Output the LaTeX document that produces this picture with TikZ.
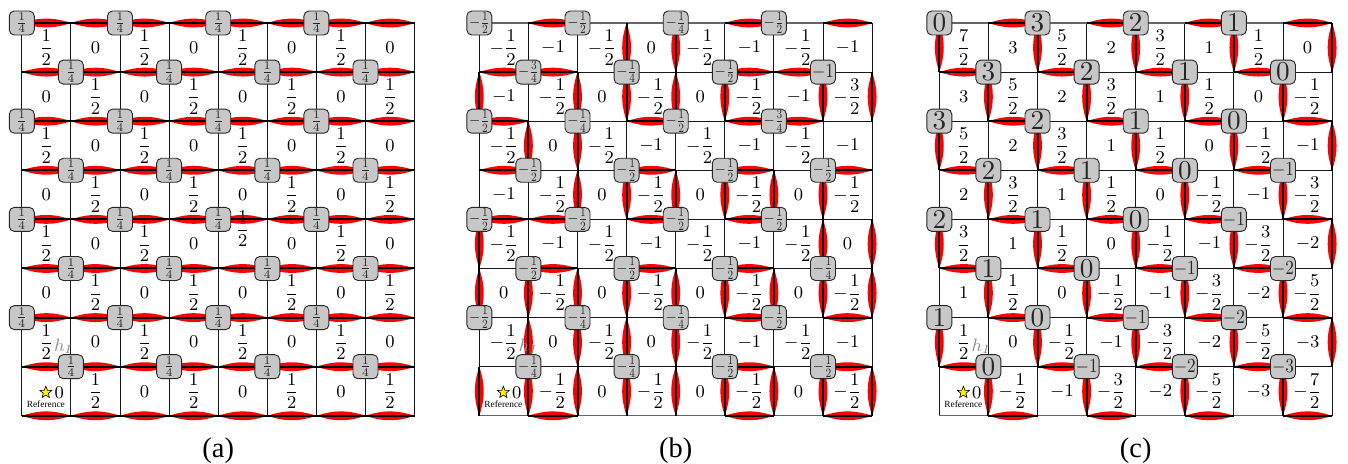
\documentclass[tikz,border=0pt]{standalone}
\usepackage{fontspec}
\usepackage{graphicx}
\usetikzlibrary{shapes.geometric}
\newfontfamily\capfont{Liberation Serif}

% n/2 typeset as an integer or a fraction
\newcommand\halfval[1]{%
  \ifodd#1\relax
    \ifnum#1<0 -\frac{\number\numexpr0-(#1)\relax}{2}\else\frac{#1}{2}\fi
  \else
    \number\numexpr(#1)/2\relax
  \fi}
% -k/4 for the vertex boxes of panel (b)
\newcommand\quarterval[1]{%
  \ifcase#1\or\scalebox{0.72}[0.91]{$-\frac{1}{4}$}%
  \or\scalebox{0.72}[0.91]{$-\frac{1}{2}$}%
  \or\scalebox{0.72}[0.91]{$-\frac{3}{4}$}%
  \or\scalebox{0.86}[1]{$-1$}\fi}
% integer vertex values of panel (c)
\newcommand\intval[1]{\ifnum#1<0 \scalebox{0.86}[1]{$#1$}\else\scalebox{1.36}{$#1$}\fi}

\tikzset{
  gridline/.style={line width=0.45pt, draw=black!90},
  rimline/.style={line width=0.6pt, draw=black!60},
  hotline/.style={line width=1pt, draw=black},
  redlens/.style={fill=red},
  vtx/.style={draw=black!85, fill=black!22, rounded corners=2.5pt,
    minimum width=12.5pt, minimum height=12pt, inner sep=0pt,
    line width=0.45pt, text=black!85, font=\fontsize{10}{12}\selectfont},
  cellval/.style={inner sep=0.75pt, font=\fontsize{9}{11}\selectfont},
  hlabel/.style={inner sep=0pt, text=black!45, font=\fontsize{9}{11}\selectfont},
  refstar/.style={star, star points=5, star point ratio=2.3, minimum size=6.2pt,
    inner sep=0pt, draw=black, fill=yellow, line width=0.3pt},
  reftext/.style={inner sep=0pt, font=\capfont\fontsize{4.7}{5}\selectfont},
  caption/.style={inner sep=0pt, font=\capfont\fontsize{14.2}{16}\selectfont},
}

% a highlighted edge: red lens under a heavy black segment
\newcommand\lensedge[2]{%
  \fill[redlens] (#1) to[bend left=18] (#2) to[bend left=18] (#1);
  \draw[hotline] (#1) -- (#2);}
\newcommand\vedge[3]{\pgfmathtruncatemacro\rnext{#3+1}\lensedge{#1-p-#2-#3}{#1-p-#2-\rnext}}
\newcommand\hedge[3]{\pgfmathtruncatemacro\cnext{#2+1}\lensedge{#1-p-#2-#3}{#1-p-\cnext-#3}}

\newcommand\gridpoints[1]{%
  \foreach \c in {0,...,8}{\foreach \r in {0,...,8}{\coordinate (#1-p-\c-\r) at (\c,\r);}}}
\newcommand\gridlines[1]{%
  \foreach \r in {1,...,7}{\draw[gridline] (#1-p-0-\r) -- (#1-p-8-\r);}
  \foreach \c in {0,...,8}{\draw[gridline] (#1-p-\c-0) -- (#1-p-\c-8);}
  \draw[rimline] (#1-p-0-0) -- (#1-p-8-0);
  \draw[rimline] (#1-p-0-8) -- (#1-p-8-8);}
% reference cell in the lower left corner, and the h_I tag beside the cell above it
\newcommand\refcell[1]{%
  \coordinate (#1-rc) at (0.5,7.5);
  \node[refstar] (#1-star) at ([xshift=-0.25pt,yshift=-0.6pt]#1-rc) {};
  \node[cellval] (#1-v-0-7) at ([xshift=6.4pt,yshift=-0.6pt]#1-rc) {$0$};
  \node[reftext] (#1-ref) at ([xshift=-0.25pt,yshift=-6.5pt]#1-rc) {Reference};
  \node[hlabel, anchor=base west] (#1-h) at ([xshift=-0.8pt,yshift=-2pt]#1-v-0-6.base east) {$h_I$};}

\begin{document}
\begin{tikzpicture}[x=0.5pt,y=-0.5pt]
\useasboundingbox (0,0) rectangle (1348,464);

% ---------------- panel (a) ----------------
\begin{scope}[shift={(21.8,23)},x=24.55pt,y=-24.55pt]
  \gridpoints{a}
  \gridlines{a}
  \foreach \r in {0,...,8}{\foreach \c in {0,...,7}{\hedge{a}{\c}{\r}}}
  \foreach \r in {0,...,7}{\foreach \c in {0,...,7}{%
    \pgfmathtruncatemacro\g{1-mod(\c+\r,2)}%
    \pgfmathtruncatemacro\isref{(\c==0)&&(\r==7)}%
    \pgfmathsetmacro\lift{((\c==4)&&(\r==4)) ? 7.5 : 0}%
    \ifnum\isref=0
      \node[cellval] (a-v-\c-\r) at ([yshift=\lift pt]\c+0.5,\r+0.5) {$\displaystyle\halfval{\g}$};
    \fi}}
  \refcell{a}
  \foreach \r in {0,...,7}{\foreach \i in {0,...,3}{%
    \pgfmathtruncatemacro\c{2*\i+mod(\r,2)}%
    \node[vtx] (a-n-\c-\r) at (\c,\r) {\scalebox{0.84}{$\frac{1}{4}$}};}}
\end{scope}

% ---------------- panel (b) ----------------
\begin{scope}[shift={(479.3,23)},x=24.55pt,y=-24.55pt]
  \gridpoints{b}
  \gridlines{b}
  \foreach \c/\r in {3/0,4/0,0/1,2/1,3/1,4/1,5/1,7/1,8/1,1/2,2/2,
      2/3,3/3,4/3,5/3,6/3,7/3,0/4,7/4,8/4,
      0/5,1/5,2/5,3/5,4/5,5/5,6/5,7/5,8/5,1/6,2/6,3/6,4/6,
      0/7,1/7,2/7,3/7,4/7,5/7,6/7,7/7,8/7}{\vedge{b}{\c}{\r}}
  \foreach \c/\r in {1/0,5/0,7/0,0/1,1/1,5/1,6/1,0/2,3/2,5/2,6/2,
      0/3,3/3,5/3,7/3,0/4,1/4,3/4,5/4,1/5,3/5,5/5,
      5/6,7/6,5/7,7/7,1/8,5/8,7/8}{\hedge{b}{\c}{\r}}
  \foreach \r/\row in {0/{-1,-2,-1,0,-1,-2,-1,-2},1/{-2,-1,0,-1,0,-1,-2,-3},
      2/{-1,0,-1,-2,-1,-2,-1,-2},3/{-2,-1,0,-1,0,-1,0,-1},
      4/{-1,-2,-1,-2,-1,-2,-1,0},5/{0,-1,0,-1,0,-1,0,-1},
      6/{-1,0,-1,0,-1,-2,-1,-2},7/{0,-1,0,-1,0,-1,0,-1}}{%
    \foreach \g [count=\c from 0] in \row {%
      \pgfmathtruncatemacro\isref{(\c==0)&&(\r==7)}%
      \ifnum\isref=0
        \node[cellval] (b-v-\c-\r) at (\c+0.5,\r+0.5) {$\displaystyle\halfval{\g}$};
      \fi}}
  \refcell{b}
  \foreach \r/\row in {0/{2,2,1,2},1/{3,1,2,4},2/{2,1,2,3},3/{2,2,2,2},
      4/{2,2,2,2},5/{2,2,2,1},6/{2,1,1,2},7/{1,1,2,2}}{%
    \foreach \k [count=\i from 0] in \row {%
      \pgfmathtruncatemacro\c{2*\i+mod(\r,2)}%
      \node[vtx] (b-n-\c-\r) at (\c,\r) {\quarterval{\k}};}}
\end{scope}

% ---------------- panel (c) ----------------
\begin{scope}[shift={(939.3,23)},x=24.55pt,y=-24.55pt]
  \gridpoints{c}
  \gridlines{c}
  \foreach \r in {0,...,7}{\foreach \c in {0,...,8}{%
    \pgfmathtruncatemacro\pp{mod(\c+\r,2)}%
    \ifnum\pp=0 \vedge{c}{\c}{\r}\fi}}
  \foreach \r in {0,...,8}{\foreach \c in {0,...,7}{%
    \pgfmathtruncatemacro\pp{mod(\c+\r,2)}%
    \ifnum\pp=1 \hedge{c}{\c}{\r}\fi}}
  \foreach \r in {0,...,7}{\foreach \c in {0,...,7}{%
    \pgfmathtruncatemacro\g{7-\c-\r}%
    \pgfmathtruncatemacro\isref{(\c==0)&&(\r==7)}%
    \ifnum\isref=0
      \node[cellval] (c-v-\c-\r) at (\c+0.5,\r+0.5) {$\displaystyle\halfval{\g}$};
    \fi}}
  \refcell{c}
  \foreach \r in {0,...,7}{\foreach \i in {0,...,3}{%
    \pgfmathtruncatemacro\c{2*\i+mod(\r,2)}%
    \pgfmathtruncatemacro\v{((\c==0)&&(\r==0)) ? 0 : (8-\c-\r)/2}%
    \node[vtx] (c-n-\c-\r) at (\c,\r) {\intval{\v}};}}
\end{scope}

% ---------------- captions ----------------
\node[caption, anchor=base] (cap-a) at (218.2,457) {(a)};
\node[caption, anchor=base] (cap-b) at (675.7,457) {(b)};
\node[caption, anchor=base] (cap-c) at (1135.7,457) {(c)};
\end{tikzpicture}
\end{document}
